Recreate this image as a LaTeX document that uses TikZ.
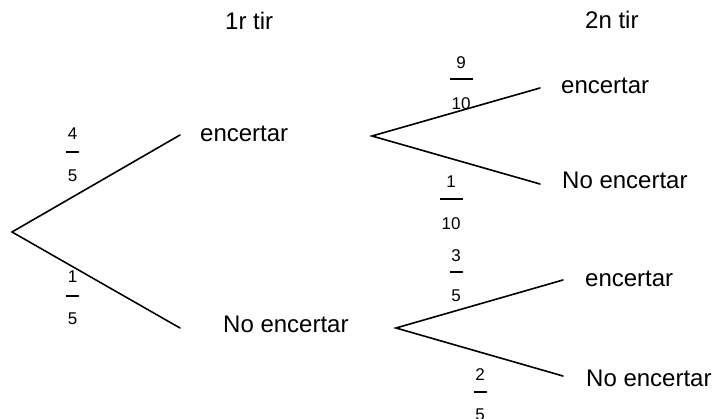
\documentclass[tikz,border=0pt]{standalone}
\usepackage{fontspec}
\setmainfont{Liberation Sans}
\begin{document}
\begin{tikzpicture}[x=1pt,y=-1pt,
  branch/.style={line width=1.6pt, line cap=round},
  lbl/.style={anchor=base west, inner sep=0pt, font=\fontsize{24}{28}\selectfont},
  digit/.style={anchor=base, inner sep=0pt, font=\fontsize{17}{19}\selectfont},
  fbar/.style={line width=1.6pt}]
\useasboundingbox (0,0) rectangle (713,419);
\clip (0,0) rectangle (713,419);
% headers
\node[lbl] (h1) at (225,30) {1r tir};
\node[lbl] (h2) at (585,29) {2n tir};
% branch points
\coordinate (root) at (12,232);
\coordinate (a) at (180,135);
\coordinate (b) at (180,328);
\coordinate (a0) at (372,136);
\coordinate (aa) at (540,88);
\coordinate (ab) at (540,184);
\coordinate (b0) at (396,328);
\coordinate (ba) at (563,280);
\coordinate (bb) at (563,376);
% labels
\node[lbl] (la) at (200,142) {encertar};
\node[lbl] (lb) at (223,333) {No encertar};
\node[lbl] (laa) at (561,94) {encertar};
\node[lbl] (lab) at (562,189) {No encertar};
\node[lbl] (lba) at (585,287) {encertar};
\node[lbl] (lbb) at (586,387) {No encertar};
% branches
\draw[branch] (a) -- (root) -- (b);
\draw[branch] (aa) -- (a0) -- (ab);
\draw[branch] (ba) -- (b0) -- (bb);
% fractions
\newcommand\pfrac[8]{%
  \node[digit] (#1n) at (#2,#3) {#6};
  \node[digit] (#1d) at (#2,#5) {#7};
  \coordinate (#1l) at (#2-#8,#4);
  \coordinate (#1r) at (#2+#8,#4);
  \draw[fbar] (#1l) -- (#1r);}
\pfrac{f1}{72.5}{140}{152}{182}{4}{5}{6.5}
\pfrac{f2}{72.5}{283}{296}{325}{1}{5}{6.5}
\pfrac{f3}{461}{69}{79}{110}{9}{10}{11.5}
\pfrac{f4}{451}{188}{199}{230}{1}{10}{11.5}
\pfrac{f5}{456}{262}{272}{302}{3}{5}{6.5}
\pfrac{f6}{480}{381}{392}{421}{2}{5}{6.5}
\end{tikzpicture}
\end{document}
